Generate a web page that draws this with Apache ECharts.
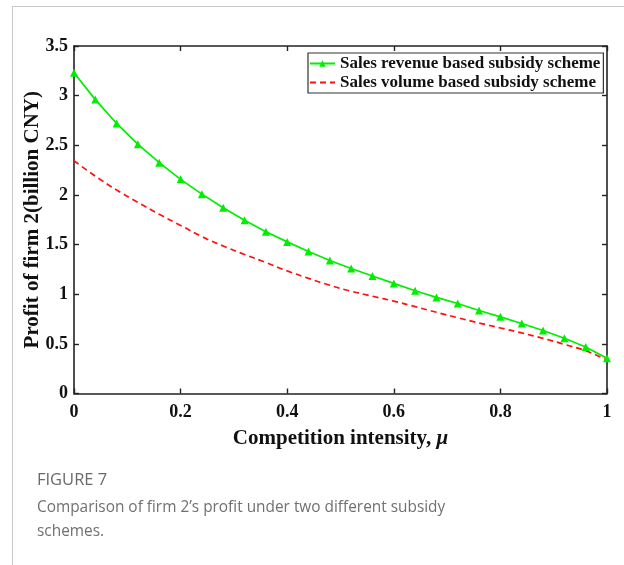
<!DOCTYPE html>
<html>
<head>
<meta charset="utf-8">
<script src="https://cdn.jsdelivr.net/npm/echarts@6/dist/echarts.min.js"></script>
<style>
  html, body { margin: 0; padding: 0; background: #fff; }
  #frame { position: absolute; left: 12px; top: 6px; width: 611px; height: 600px;
           border-left: 1px solid #c8c8c8; border-top: 1px solid #c8c8c8; border-right: 1px solid #c8c8c8; }
  #chart { position: absolute; left: 0; top: 0; width: 624px; height: 565px; }
</style>
</head>
<body>
<div id="frame"></div>
<div id="chart"></div>
<script>
// Competition intensity values (x axis)
const mu = [0, 0.04, 0.08, 0.12, 0.16, 0.20, 0.24, 0.28, 0.32, 0.36, 0.40, 0.44, 0.48,
            0.52, 0.56, 0.60, 0.64, 0.68, 0.72, 0.76, 0.80, 0.84, 0.88, 0.92, 0.96, 1.00];

// Profit of firm 2 (billion CNY), sales revenue based subsidy scheme
const revenueScheme = [3.23, 2.96, 2.72, 2.51, 2.325, 2.157, 2.008, 1.87, 1.746, 1.63, 1.527, 1.43, 1.339,
                       1.259, 1.183, 1.109, 1.035, 0.968, 0.906, 0.836, 0.772, 0.705, 0.634, 0.557, 0.468, 0.355];

// Profit of firm 2 (billion CNY), sales volume based subsidy scheme
const volumeScheme = [2.344, 2.19, 2.05, 1.925, 1.805, 1.693, 1.58, 1.485, 1.40, 1.32, 1.235, 1.16, 1.09,
                      1.03, 0.98, 0.93, 0.875, 0.818, 0.763, 0.71, 0.66, 0.61, 0.555, 0.495, 0.43, 0.337];

// Axis tick values
const xTicks = [0, 0.2, 0.4, 0.6, 0.8, 1];
const yTicks = [0, 0.5, 1, 1.5, 2, 2.5, 3, 3.5];

const seriesNames = ['Sales revenue based subsidy scheme', 'Sales volume based subsidy scheme'];
const xTitle = 'Competition intensity, {mu|\u03bc}';
const yTitle = 'Profit of firm 2(billion CNY)';
const captionHead = 'FIGURE 7';
const captionLines = ['Comparison of firm 2\u2019s profit under two different subsidy', 'schemes.'];

const serif = '"Liberation Serif", "Times New Roman", serif';
const axisColor = '#222';

function axisBase(extra) {
  return Object.assign({
    type: 'value',
    axisLine: { show: true, onZero: false, lineStyle: { color: axisColor, width: 1.6 } },
    axisTick: { show: true, inside: true, length: 5, lineStyle: { color: axisColor, width: 1.4 } },
    splitLine: { show: false }
  }, extra);
}

const xCfg = { min: xTicks[0], max: xTicks[xTicks.length - 1], interval: xTicks[1] - xTicks[0] };
const yCfg = { min: yTicks[0], max: yTicks[yTicks.length - 1], interval: yTicks[1] - yTicks[0] };

const chart = echarts.init(document.getElementById('chart'), null, { renderer: 'canvas' });

chart.setOption({
  animation: false,
  backgroundColor: 'transparent',
  grid: { left: 74, right: 17, top: 46, bottom: 171.5 },
  xAxis: [
    axisBase(Object.assign({}, xCfg, {
      position: 'bottom',
      axisLabel: { color: '#111', fontFamily: serif, fontWeight: 'bold', fontSize: 18, margin: 10 },
      name: xTitle, nameLocation: 'middle', nameGap: 35,
      nameTextStyle: {
        color: '#111', fontFamily: serif, fontWeight: 'bold', fontSize: 21,
        rich: { mu: { fontFamily: serif, fontWeight: 'bold', fontStyle: 'italic', fontSize: 21, color: '#111' } }
      }
    })),
    axisBase(Object.assign({}, xCfg, { position: 'top', axisLabel: { show: false } }))
  ],
  yAxis: [
    axisBase(Object.assign({}, yCfg, {
      position: 'left',
      axisLabel: { color: '#111', fontFamily: serif, fontWeight: 'bold', fontSize: 18, margin: 6 },
      name: yTitle, nameLocation: 'middle', nameGap: 31, nameMoveOverlap: false,
      nameTextStyle: { color: '#111', fontFamily: serif, fontWeight: 'bold', fontSize: 21 }
    })),
    axisBase(Object.assign({}, yCfg, { position: 'right', axisLabel: { show: false } }))
  ],
  legend: {
    orient: 'vertical',
    left: 308, top: 53,
    padding: [2, 3, 2, 1],
    itemGap: 2,
    itemWidth: 25, itemHeight: 8,
    backgroundColor: '#fff',
    borderColor: '#333', borderWidth: 1.2,
    textStyle: { color: '#111', fontFamily: serif, fontWeight: 'bold', fontSize: 17 },
    data: [
      { name: seriesNames[0] },
      { name: seriesNames[1], itemStyle: { opacity: 0 } }
    ]
  },
  series: [
    {
      name: seriesNames[0], type: 'line',
      data: mu.map((m, i) => [m, revenueScheme[i]]),
      smooth: false,
      symbol: 'triangle', symbolSize: 8,
      itemStyle: { color: '#00ee00' },
      lineStyle: { color: '#00ee00', width: 1.7 },
      z: 3
    },
    {
      name: seriesNames[1], type: 'line',
      data: mu.map((m, i) => [m, volumeScheme[i]]),
      smooth: true,
      symbol: 'none',
      itemStyle: { color: '#ff1010' },
      lineStyle: { color: '#ff1010', width: 1.7, type: [6, 4] },
      z: 2
    }
  ],
  graphic: [
    {
      type: 'text', left: 37, top: 472,
      style: { text: captionHead, fill: '#6a6a6a', font: '500 16.5px "Open Sans", "Noto Sans", sans-serif' }
    },
    {
      type: 'text', left: 37, top: 496,
      style: {
        text: captionLines.join('\n'), fill: '#707070', lineHeight: 23.5,
        font: '15.4px "Open Sans", "Noto Sans", sans-serif'
      }
    }
  ]
});
</script>
</body>
</html>
